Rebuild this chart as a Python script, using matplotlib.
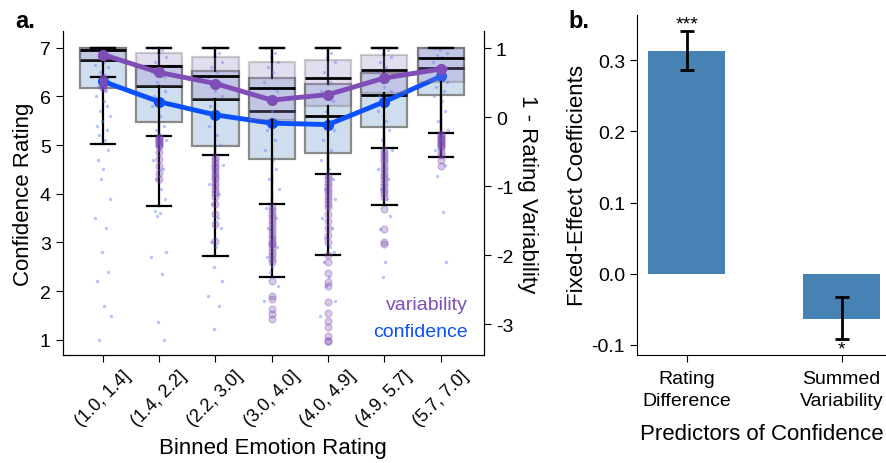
import matplotlib
matplotlib.use("Agg")
from matplotlib import pyplot as plt

plt.rcParams['font.family'] = ['Liberation Sans', 'DejaVu Sans']
plt.rcParams['axes.unicode_minus'] = False

# ---- panel a data ----
bins = ["(1.0, 1.4]", "(1.4, 2.2]", "(2.2, 3.0]", "(3.0, 4.0]", "(4.0, 4.9]", "(4.9, 5.7]", "(5.7, 7.0]"]

conf_lo = [5.02, 3.74, 2.73, 2.29, 2.74, 3.76, 4.75]
conf_q1 = [6.18, 5.47, 4.98, 4.71, 4.83, 5.38, 6.03]
conf_med = [6.74, 6.22, 5.94, 5.69, 5.60, 6.03, 6.58]
conf_q3 = [7.0, 6.63, 6.52, 6.37, 6.25, 6.49, 7.0]
conf_hi = [7.0, 7.0, 7.0, 7.0, 7.0, 7.0, 7.0]
conf_mean = [6.31, 5.89, 5.62, 5.45, 5.42, 5.89, 6.41]

var_lo = [0.59, -0.27, -0.55, -1.26, -0.82, -0.45, -0.22]
var_q1 = [0.83, 0.46, 0.27, -0.04, 0.17, 0.36, 0.51]
var_med = [0.98, 0.75, 0.60, 0.43, 0.57, 0.69, 0.86]
var_q3 = [1.0, 0.93, 0.88, 0.80, 0.83, 0.91, 1.0]
var_hi = [1.0, 1.0, 1.0, 1.0, 1.0, 1.0, 1.0]
var_mean = [0.91, 0.65, 0.49, 0.25, 0.33, 0.57, 0.70]

var_out = [
    [0.58, 0.56, 0.55, 0.54, 0.53, 0.52, 0.50, 0.49, 0.47, 0.45, 0.42],
    [-0.28, -0.30, -0.32, -0.34, -0.36, -0.38, -0.40, -0.42, -0.50, -0.60, -0.70, -0.80, -0.90],
    [-0.58, -0.62, -0.66, -0.70, -0.74, -0.78, -0.82, -0.86, -0.90, -0.95, -1.00, -1.05,
     -1.10, -1.15, -1.25, -1.40, -1.55, -1.79],
    [-1.30, -1.35, -1.40, -1.45, -1.50, -1.55, -1.60, -1.65, -1.70, -1.75, -1.80, -1.84,
     -1.84, -1.90, -1.95, -2.00, -2.05, -2.10, -2.37, -2.59, -2.63, -2.78, -2.85, -2.92],
    [-0.85, -0.90, -0.95, -1.00, -1.05, -1.10, -1.15, -1.20, -1.25, -1.30, -1.40, -1.50,
     -1.60, -1.70, -1.80, -2.00, -2.10, -2.25, -2.39, -2.45, -2.68, -2.83, -2.95, -3.04,
     -3.17, -3.24, -3.24],
    [-0.48, -0.52, -0.56, -0.60, -0.65, -0.70, -0.75, -0.80, -0.85, -0.90, -0.95, -1.00,
     -1.05, -1.10, -1.15, -1.33, -1.62, -1.80, -1.84],
    [-0.24, -0.26, -0.28, -0.30, -0.32, -0.34, -0.36, -0.38, -0.40, -0.42, -0.45, -0.50,
     -0.55, -0.62, -0.70],
]

conf_pts = [
    [7.0, 7.0, 6.9, 6.85, 6.8, 6.7, 6.65, 6.6, 6.5, 6.4, 6.3, 6.2, 6.1, 6.0, 5.9, 5.8, 5.7,
     5.6, 5.5, 5.4, 5.3, 5.2, 5.1, 4.9, 4.7, 4.5, 4.3, 3.9, 3.5, 3.3, 2.8, 2.4, 2.2, 1.7, 1.5, 1.0],
    [7.0, 6.95, 6.9, 6.8, 6.7, 6.6, 6.5, 6.4, 6.3, 6.2, 6.1, 6.0, 5.9, 5.8, 5.6, 5.4, 5.3,
     5.1, 4.9, 4.7, 4.5, 4.3, 4.1, 3.9, 3.65, 3.6, 3.55, 2.8, 2.7, 2.35, 1.37, 1.0],
    [7.0, 6.9, 6.8, 6.7, 6.6, 6.5, 6.4, 6.3, 6.2, 6.1, 6.0, 5.8, 5.6, 5.4, 5.2, 5.0, 4.8,
     4.6, 4.4, 4.2, 4.0, 3.8, 3.5, 3.3, 3.0, 2.9, 2.5, 2.2, 1.9, 1.7, 1.23],
    [7.0, 6.9, 6.8, 6.7, 6.6, 6.5, 6.3, 6.1, 5.9, 5.7, 5.5, 5.3, 5.1, 4.9, 4.7, 4.5, 4.3,
     4.1, 3.9, 3.7, 3.5, 3.3, 3.1, 2.9, 2.7, 2.5, 2.4, 2.1, 1.8],
    [7.0, 6.9, 6.8, 6.7, 6.5, 6.3, 6.1, 5.9, 5.7, 5.5, 5.3, 5.1, 4.9, 4.7, 4.5, 4.3, 4.1,
     3.9, 3.7, 3.5, 3.3, 3.1, 2.9, 2.8, 2.6, 2.3, 2.1, 1.8, 1.5],
    [7.0, 6.95, 6.9, 6.8, 6.7, 6.6, 6.5, 6.4, 6.3, 6.2, 6.1, 6.0, 5.9, 5.7, 5.5, 5.3, 5.1,
     4.9, 4.7, 4.5, 4.3, 4.1, 3.9, 3.54, 3.28, 2.6, 2.3],
    [7.0, 7.0, 6.95, 6.9, 6.85, 6.8, 6.7, 6.6, 6.5, 6.4, 6.3, 6.2, 6.1, 6.0, 5.9, 5.7, 5.5,
     5.3, 5.1, 4.9, 4.6, 4.36, 3.63, 2.6],
]

# ---- panel b data ----
predictors = ["Rating\nDifference", "Summed\nVariability"]
coefs = [0.3132, -0.0633]
err_low = [0.0272, 0.0291]
err_high = [0.0281, 0.0305]
stars = ["***", "*"]

blue = '#0a50ff'
purple = '#7e4db5'

fig = plt.figure(figsize=(8.87, 4.64), dpi=100)
ax = fig.add_axes([0.0705, 0.2328, 0.4752, 0.698])
ax_r = ax.twinx()

pos = list(range(len(bins)))
jitter = [-0.10, 0.06, -0.02, 0.12, -0.07, 0.03, -0.13, 0.09, -0.04, 0.0, 0.11, -0.09,
          0.05, -0.12, 0.02, 0.08, -0.05, 0.13, -0.01, -0.11, 0.07, -0.06, 0.04, 0.10,
          -0.08, 0.01, -0.03, 0.12, -0.14, 0.06, -0.02, 0.09, -0.10, 0.03, 0.14, -0.07]

conf_stats = []
var_stats = []
for i in pos:
    conf_stats.append(dict(med=conf_med[i], q1=conf_q1[i], q3=conf_q3[i],
                           whislo=conf_lo[i], whishi=conf_hi[i], fliers=[]))
    var_stats.append(dict(med=var_med[i], q1=var_q1[i], q3=var_q3[i],
                          whislo=var_lo[i], whishi=var_hi[i], fliers=var_out[i]))

line_kw = dict(color='black', linewidth=1.6)
ax.bxp(conf_stats, positions=pos, widths=0.82, patch_artist=True, capwidths=0.43,
       boxprops=dict(facecolor='#cfdeee', edgecolor='#8a8a8a', linewidth=1.6),
       medianprops=dict(color='black', linewidth=2), whiskerprops=line_kw, capprops=line_kw,
       manage_ticks=False, zorder=2)

for i in pos:
    xs = [i + jitter[k % len(jitter)] for k in range(len(conf_pts[i]))]
    ax.plot(xs, conf_pts[i], 'o', color='#5b7cff', ms=2.4, alpha=0.45, mec='none', zorder=3)

ax.plot(pos, conf_mean, color=blue, lw=3.5, marker='o', ms=7, zorder=4)

ax_r.bxp(var_stats, positions=pos, widths=0.82, patch_artist=True, capwidths=0.43,
         boxprops=dict(facecolor='#9d88cc', alpha=0.28, edgecolor='#555555', linewidth=1.6),
         medianprops=dict(color='black', linewidth=2), whiskerprops=line_kw, capprops=line_kw,
         flierprops=dict(marker='o', markersize=5, markerfacecolor=purple, markeredgecolor=purple,
                         alpha=0.3, linestyle='none'),
         manage_ticks=False, zorder=2)
ax_r.plot(pos, var_mean, color=purple, lw=3.5, marker='o', ms=7, zorder=4)

ax.set_xlim(-0.714, 6.769)
ax.set_ylim(0.69, 7.34)
ax_r.set_ylim(-3.445, 1.25)
ax.set_xticks(pos)
ax.set_xticklabels(bins, rotation=45, ha='center', fontsize=13)
ax.set_yticks([1, 2, 3, 4, 5, 6, 7])
ax_r.set_yticks([-3, -2, -1, 0, 1])
ax.tick_params(axis='both', labelsize=14, length=5)
ax.tick_params(axis='x', labelsize=13)
ax_r.tick_params(axis='y', labelsize=14, length=5)
ax.set_xlabel('Binned Emotion Rating', fontsize=16, labelpad=6)
ax.set_ylabel('Confidence Rating', fontsize=16)
ax_r.set_ylabel('1 - Rating Variability', fontsize=16, rotation=270, va='bottom', labelpad=3)
for a in (ax, ax_r):
    a.spines['top'].set_visible(False)

ax_r.text(0.962, 0.157, 'variability', color=purple, fontsize=14, ha='right', va='center',
          transform=ax.transAxes)
ax_r.text(0.962, 0.074, 'confidence', color=blue, fontsize=14, ha='right', va='center',
          transform=ax.transAxes)

# ---- panel b ----
bx = fig.add_axes([0.7178, 0.2328, 0.2818, 0.7328])
xb = [0, 1]
bx.bar(xb, coefs, width=0.5, color='#4682b4')
bx.errorbar(xb, coefs, yerr=[err_low, err_high], fmt='none', ecolor='black',
            elinewidth=2, capsize=5, capthick=2)
bx.text(0, coefs[0] + err_high[0] - 0.002, stars[0], ha='center', va='bottom', fontsize=14)
bx.text(1, coefs[1] - err_low[1] - 0.002, stars[1], ha='center', va='top', fontsize=14)
bx.set_xlim(-0.323, 1.29)
bx.set_ylim(-0.1145, 0.364)
bx.set_yticks([-0.1, 0.0, 0.1, 0.2, 0.3])
bx.set_xticks(xb)
bx.set_xticklabels(predictors, fontsize=14, linespacing=1.35)
bx.tick_params(axis='both', labelsize=14, length=5)
bx.tick_params(axis='x', pad=6)
bx.set_xlabel('Predictors of Confidence', fontsize=16, labelpad=10)
bx.set_ylabel('Fixed-Effect Coefficients', fontsize=16, labelpad=2)
bx.spines['top'].set_visible(False)
bx.spines['right'].set_visible(False)

fig.text(0.017, 0.94, 'a.', fontsize=17, fontweight='bold')
fig.text(0.641, 0.94, 'b.', fontsize=17, fontweight='bold')

fig.savefig('out.png', dpi=100)
